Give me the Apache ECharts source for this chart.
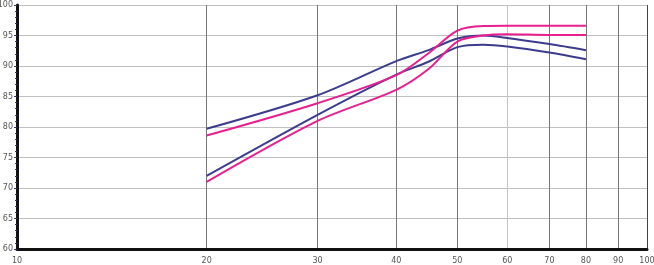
<!DOCTYPE html>
<html>
<head>
<meta charset="utf-8">
<script src="https://cdn.jsdelivr.net/npm/echarts@6/dist/echarts.min.js"></script>
<style>html,body{margin:0;padding:0;background:#fff}#c{width:654px;height:265px}</style>
</head>
<body>
<div id="c"></div>
<script>
const xValues = [20, 30, 40, 45, 50, 55, 60, 70, 80];
const navyUpper = [79.7, 85.2, 90.8, 92.6, 94.5, 95.0, 94.6, 93.6, 92.6];
const navyLower = [72.0, 82.0, 88.6, 90.7, 93.1, 93.5, 93.2, 92.2, 91.1];
const pinkUpper = [78.6, 83.9, 88.5, 92.1, 95.8, 96.55, 96.6, 96.6, 96.6];
const pinkLower = [71.0, 81.0, 86.1, 89.5, 94.0, 95.0, 95.2, 95.1, 95.1];
const xTicks = [10, 20, 30, 40, 50, 60, 70, 80, 90, 100];
const NAVY = '#3c3c8e', PINK = '#ea1f8f';
const pairs = a => xValues.map((x, i) => [x, a[i]]);
const mk = (d, c) => ({type: 'line', data: pairs(d), smooth: 0.3, showSymbol: false,
  lineStyle: {color: c, width: 2}, itemStyle: {color: c}});
const chart = echarts.init(document.getElementById('c'));
chart.setOption({
  animation: false,
  grid: {left: 17, right: 7, top: 5, bottom: 16, containLabel: false, outerBoundsMode: 'none'},
  xAxis: {
    type: 'log', logBase: 10, min: 10, max: 100,
    axisLine: {show: true, onZero: false, lineStyle: {color: '#111', width: 3}},
    axisTick: {show: false, customValues: xTicks},
    axisLabel: {customValues: xTicks, fontSize: 8, color: '#555', margin: 8, fontFamily: 'DejaVu Sans',
      formatter: v => String(Math.round(v))},
    splitLine: {show: true, lineStyle: {width: 1,
      color: ['#777', '#777', '#777', '#777', '#777', '#c4c4c4', '#777', '#777', '#777', NAVY]}}
  },
  yAxis: {
    type: 'value', min: 60, max: 100, interval: 5,
    axisLine: {show: true, lineStyle: {color: '#111', width: 3}},
    axisTick: {show: true, length: 3, lineStyle: {color: '#333366'}},
    minorTick: {show: true, splitNumber: 5, length: 2, lineStyle: {color: '#333366'}},
    axisLabel: {fontSize: 8, color: '#555', margin: 4, fontFamily: 'DejaVu Sans'},
    splitLine: {show: true, lineStyle: {color: '#c0c0c0', width: 1}}
  },
  series: [mk(navyUpper, NAVY), mk(navyLower, NAVY), mk(pinkUpper, PINK), mk(pinkLower, PINK)]
});
</script>
</body>
</html>
